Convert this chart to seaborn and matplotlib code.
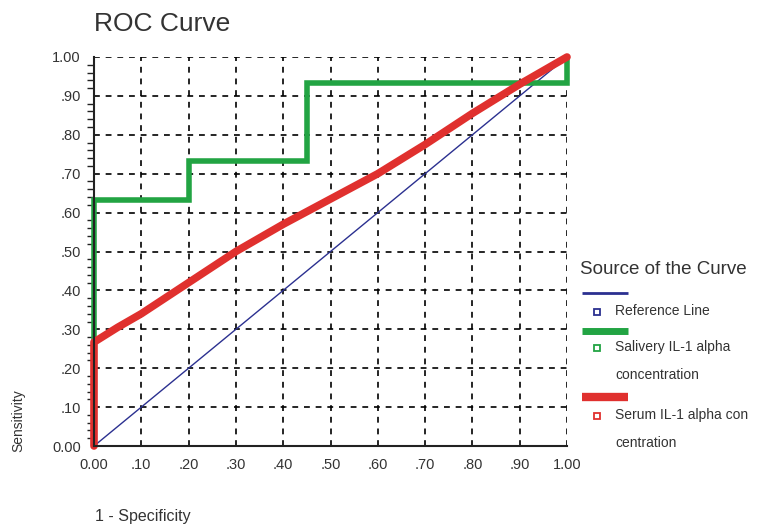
import matplotlib
matplotlib.use("Agg")
import matplotlib.pyplot as plt
import seaborn as sns
import numpy as np
import pandas as pd
from matplotlib.lines import Line2D
from matplotlib.ticker import MultipleLocator

# ---- data ----
ref_x = [0.0, 1.0]
ref_y = [0.0, 1.0]
saliva_x = [0.0, 0.0, 0.2, 0.2, 0.45, 0.45, 1.0, 1.0]
saliva_y = [0.0, 0.633, 0.633, 0.733, 0.733, 0.933, 0.933, 1.0]
serum_x = [0.0, 0.0, 0.05, 0.1, 0.2, 0.3, 0.4, 0.5, 0.6, 0.7, 0.8, 0.9, 1.0]
serum_y = [0.0, 0.267, 0.305, 0.34, 0.42, 0.50, 0.57, 0.635, 0.70, 0.775, 0.855, 0.93, 1.0]
tick_vals = [0.0, 0.1, 0.2, 0.3, 0.4, 0.5, 0.6, 0.7, 0.8, 0.9, 1.0]
tick_labels = ["0.00", ".10", ".20", ".30", ".40", ".50", ".60", ".70", ".80", ".90", "1.00"]

series_names = ["Reference Line", "Salivery IL-1 alpha\nconcentration", "Serum IL-1 alpha con\ncentration"]
colors = ["#2b3090", "#22a443", "#e0302e"]
widths = [1.0, 4.0, 5.5]
legend_widths = [2.0, 5.0, 6.0]

sns.set_theme(style="white")
plt.rcParams["font.family"] = ["Liberation Sans", "DejaVu Sans"]

fig = plt.figure(figsize=(7.69, 5.29), dpi=100)
W, H = 769, 529
ax = fig.add_axes([94 / W, 1 - 446 / H, (567 - 94) / W, (446 - 57) / H])

ax.set_xlim(0, 1)
ax.set_ylim(0, 1)
ax.set_xticks(tick_vals)
ax.set_xticklabels(tick_labels)
ax.set_yticks(tick_vals)
ax.set_yticklabels(tick_labels)
ax.yaxis.set_minor_locator(MultipleLocator(0.02))
ax.grid(True, which="major", color="black", linestyle=(0, (3.5, 3.5)), linewidth=1.2)
ax.set_axisbelow(True)

df_ref = pd.DataFrame({"x": ref_x, "y": ref_y})
df_sal = pd.DataFrame({"x": saliva_x, "y": saliva_y})
df_ser = pd.DataFrame({"x": serum_x, "y": serum_y})
common = dict(x="x", y="y", sort=False, estimator=None, ax=ax, clip_on=False)
sns.lineplot(data=df_ref, color=colors[0], linewidth=widths[0], zorder=3, **common)
sns.lineplot(data=df_sal, color=colors[1], linewidth=widths[1], zorder=4, solid_joinstyle="miter", **common)
sns.lineplot(data=df_ser, color=colors[2], linewidth=widths[2], zorder=5, **common)

for s in ["top", "right"]:
    ax.spines[s].set_visible(False)
for s in ["left", "bottom"]:
    ax.spines[s].set_color("#222222")
    ax.spines[s].set_linewidth(1.5)
    ax.spines[s].set_zorder(6)

ax.tick_params(axis="both", which="major", length=5, width=4, direction="inout",
               color="#111111", labelsize=10.5, labelcolor="#333333")
ax.tick_params(axis="x", which="major", pad=6)
ax.tick_params(axis="y", which="major", pad=7)
ax.tick_params(axis="y", which="minor", length=5, width=1, direction="out", color="#222222", left=True)
ax.set_xlabel("")
ax.set_ylabel("")

fig.text(94 / W, 1 - 24 / H, "ROC Curve", fontsize=19, color="#333333", va="center", ha="left")
fig.text(18 / W, 1 - 452 / H, "Sensitivity", fontsize=10, color="#333333", rotation=90,
         va="bottom", ha="center")
fig.text(95 / W, 1 - 517 / H, "1 - Specificity", fontsize=11.5, color="#333333", va="center", ha="left")

# legend (manual, SPSS style)
fig.text(580 / W, 1 - 270 / H, "Source of the Curve", fontsize=13.5, color="#333333", va="center", ha="left")
line_ys = [293, 331, 397]
label_ys = [312, 348, 416]
for name, c, lw, ly, ty in zip(series_names, colors, legend_widths, line_ys, label_ys):
    fig.add_artist(Line2D([582 / W, 628 / W], [1 - ly / H, 1 - ly / H], color=c,
                          linewidth=lw, solid_capstyle="butt", transform=fig.transFigure))
    fig.add_artist(Line2D([597 / W], [1 - ty / H], marker="s", markersize=5, markerfacecolor="white",
                          markeredgecolor=c, markeredgewidth=1.3, linestyle="none", transform=fig.transFigure))
    fig.text(615 / W, 1 - (ty - 8) / H, name, fontsize=10, color="#333333", va="top", ha="left",
             linespacing=2.25)

fig.savefig("out.png", dpi=100)
